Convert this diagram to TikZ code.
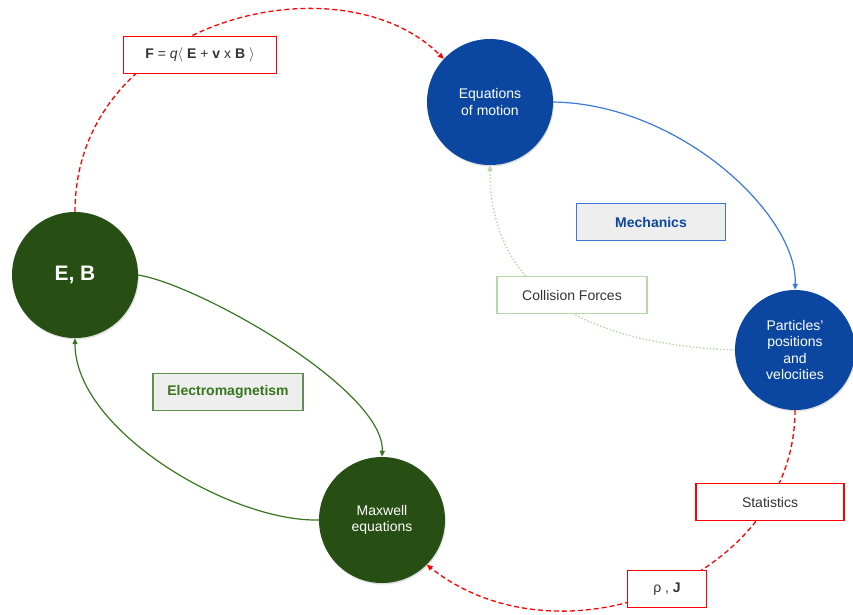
\documentclass[tikz,border=0pt]{standalone}
\usepackage{fontspec}
\setmainfont{Liberation Sans}
\usetikzlibrary{arrows.meta, positioning, shadows}

\definecolor{motionblue}{HTML}{0B47A1}
\definecolor{fieldgreen}{HTML}{274E13}
\definecolor{linkblue}{HTML}{3C78D8}
\definecolor{linkgreen}{HTML}{38761D}
\definecolor{palegreen}{HTML}{B6D7A8}
\definecolor{labelgray}{HTML}{EEEEEE}
\definecolor{textgray}{HTML}{333333}

\tikzstyle{bubble} = [circle, minimum size=126pt, inner sep=0pt, text=white, align=center,
  font=\fontsize{14}{16.5}\selectfont,
  drop shadow={shadow xshift=0.8pt, shadow yshift=-1.5pt, opacity=0.25}]
\tikzstyle{bluebubble} = [bubble, fill=motionblue]
\tikzstyle{greenbubble} = [bubble, fill=fieldgreen]
\tikzstyle{tag} = [rectangle, fill=white, draw=red, line width=1.4pt, minimum height=37pt,
  text=textgray, font=\fontsize{14}{16}\selectfont]
\tikzstyle{themetag} = [tag, fill=labelgray, font=\bfseries\fontsize{14}{16}\selectfont]
\tikzstyle{arrow} = [line width=1.2pt, -{Triangle[length=6pt,width=5pt]}]
\tikzstyle{reddash} = [arrow, red, line width=1.3pt, dash pattern=on 5pt off 3pt]

\begin{document}
\begin{tikzpicture}[x=1pt, y=-1pt]
    \useasboundingbox (0,0) rectangle (853,614);

    % Circles
    \node[greenbubble, font=\bfseries\fontsize{21}{24}\selectfont] (fields) at (75,275) {E, B};
    \node[bluebubble] (motion) at (490,102) {Equations\\of motion};
    \node[bluebubble, minimum size=120pt] (particles) at (795,350)
      {Particles’\\positions\\and\\velocities};
    \node[greenbubble] (maxwell) at (382,520) {Maxwell\\equations};

    % Connectors
    \draw[reddash] (fields.north) .. controls (75,20) and (340,-45) .. (motion.137);
    \draw[arrow, linkblue] (motion.east) .. controls (680,104) and (798,215) .. (particles.north);
    \draw[arrow, palegreen, line width=1.4pt, dotted]
      (particles.west) .. controls (600,345) and (490,300) .. (motion.south);
    \draw[arrow, linkgreen] (fields.east) .. controls (200,285) and (385,390) .. (maxwell.north);
    \draw[arrow, linkgreen] (maxwell.west) .. controls (230,522) and (75,430) .. (fields.south);
    \draw[reddash] (particles.south) .. controls (795,580) and (560,670) .. (maxwell.-45);

    % Labels
    \node[tag, minimum width=153pt] (lorentz) at (200,55)
      {\textbf{F} = \textit{q}$\langle$ \textbf{E} + \textbf{v} x \textbf{B} $\rangle$};
    \node[tag, minimum width=148pt] (stats) at (770,502) {Statistics};
    \node[tag, minimum width=79pt] (sources) at (667,589) {ρ , \textbf{J}};
    \node[tag, draw=palegreen, minimum width=150pt] (collision) at (572,295) {Collision Forces};
    \node[themetag, draw=linkblue, text=motionblue, minimum width=149pt] (mechanics) at (651,222) {Mechanics};
    \node[themetag, draw=linkgreen!80, text=linkgreen, minimum width=150pt] (emag) at (228,392) {Electromagnetism};
\end{tikzpicture}
\end{document}
